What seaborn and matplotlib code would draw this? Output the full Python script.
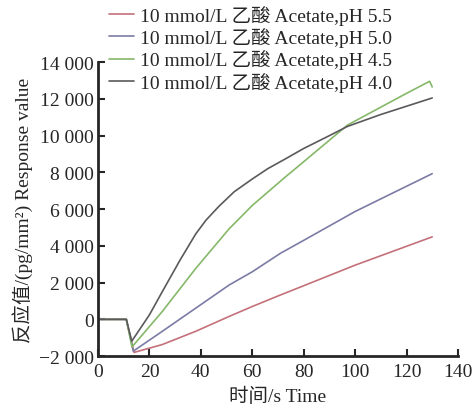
import numpy as np
import pandas as pd
import seaborn as sns
import matplotlib.pyplot as plt
from matplotlib.ticker import FuncFormatter

sns.set_style('ticks')
plt.rcParams['font.family'] = ['Liberation Serif', 'Noto Sans CJK SC', 'DejaVu Sans']
plt.rcParams['axes.unicode_minus'] = True

# time (s) / response value for each buffer
t_55 = [0, 11, 14, 25, 38, 51, 60, 71, 80, 100, 130]
v_55 = [0, 0, -1800, -1370, -650, 160, 700, 1330, 1830, 2950, 4490]

t_50 = [0, 11, 13.7, 25, 38, 51, 60, 71, 80, 100, 130]
v_50 = [0, 0, -1730, -650, 610, 1870, 2590, 3600, 4300, 5870, 7930]

t_45 = [0, 11, 13.2, 25, 38, 51, 60, 72.7, 80, 90, 97, 110, 120, 129, 130]
v_45 = [0, 0, -1500, 430, 2770, 4930, 6200, 7730, 8580, 9750, 10570, 11550, 12300, 12960, 12650]

t_40 = [0, 11, 13.1, 20, 25, 32, 38, 42, 47, 53, 60, 66, 72.7, 80, 90, 97, 110, 120, 130]
v_40 = [0, 0, -1190, 250, 1510, 3250, 4650, 5400, 6150, 6950, 7640, 8200, 8720, 9300, 10000,
        10500, 11150, 11600, 12050]

labels = ['10 mmol/L 乙酸 Acetate,pH 5.5', '10 mmol/L 乙酸 Acetate,pH 5.0',
          '10 mmol/L 乙酸 Acetate,pH 4.5', '10 mmol/L 乙酸 Acetate,pH 4.0']
colors = ['#c4707a', '#7b7ba5', '#86b86a', '#5a5a5a']

series = [(t_55, v_55), (t_50, v_50), (t_45, v_45), (t_40, v_40)]

fig = plt.figure(figsize=(4.76, 4.10), dpi=100)
ax = fig.add_axes([0.206, 0.129, 0.756, 0.717])

for (t, v), lab, c in zip(series, labels, colors):
    d = pd.DataFrame({'t': t, 'v': v})
    sns.lineplot(data=d, x='t', y='v', ax=ax, color=c, lw=1.2, label=lab)

ax.set_xlim(0, 140)
ax.set_ylim(-2000, 14000)
ax.set_xticks(np.arange(0, 141, 20))
ax.set_yticks(np.arange(-2000, 14001, 2000))

def fmt(val, pos):
    s = '{:,}'.format(int(abs(val))).replace(',', ' ')
    return ('\u2212' if val < 0 else '') + s

ax.yaxis.set_major_formatter(FuncFormatter(fmt))
ax.tick_params(direction='in', length=5, width=1.5, labelsize=14)
ax.tick_params(axis='x', pad=5)
ax.tick_params(axis='y', pad=3)
for sp in ['top', 'right']:
    ax.spines[sp].set_visible(False)
for sp in ['left', 'bottom']:
    ax.spines[sp].set_linewidth(2)

ax.set_xlabel('时间/s Time', fontsize=14, labelpad=5)
ax.set_ylabel('反应值/(pg/mm²) Response value', fontsize=14, labelpad=4)

ax.legend(loc='upper left', bbox_to_anchor=(0.228, 0.985), bbox_transform=fig.transFigure,
          frameon=False, fontsize=14, handlelength=1.3, handletextpad=0.3,
          labelspacing=0.12, borderpad=0, borderaxespad=0)

fig.savefig('out.png', dpi=100)
